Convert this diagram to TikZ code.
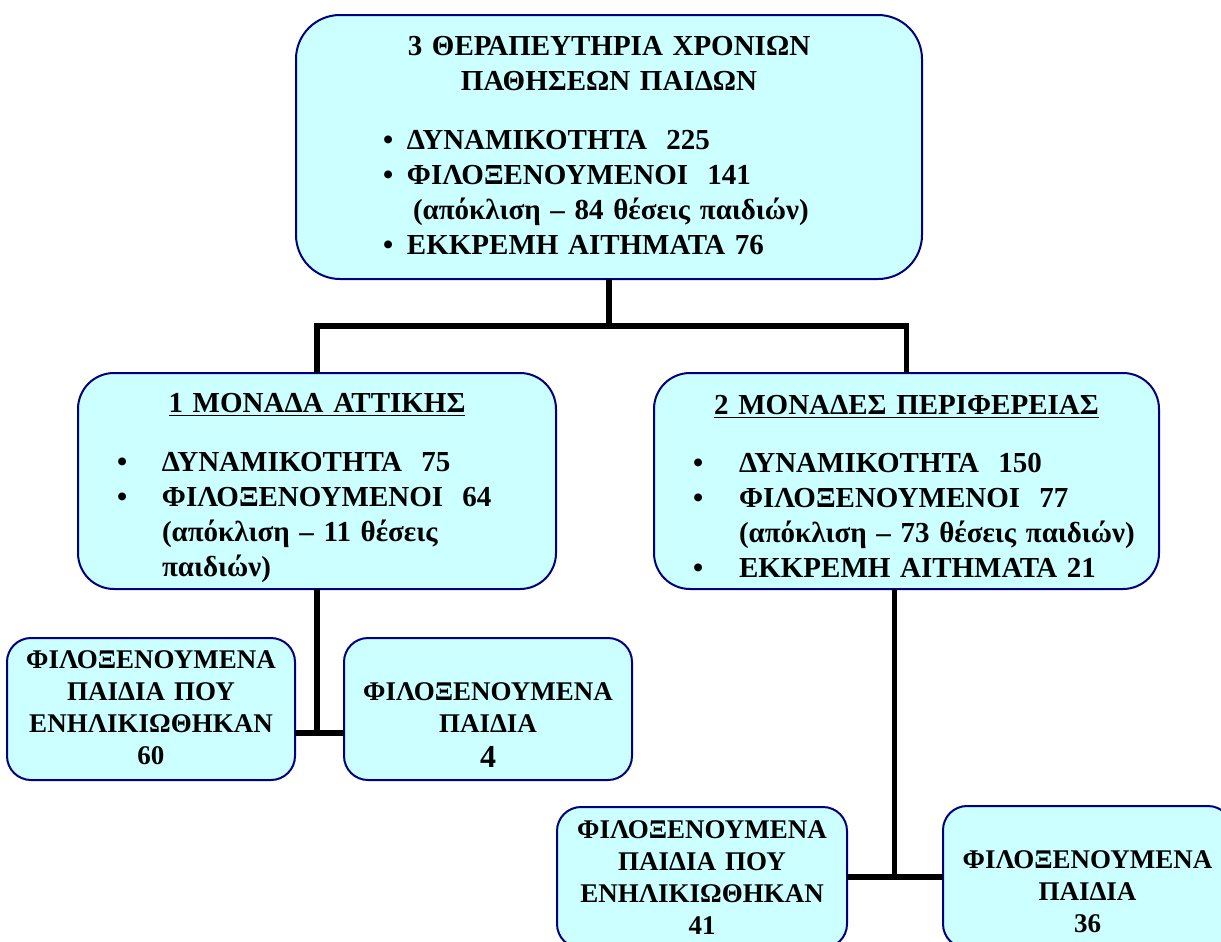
\documentclass[tikz,border=0pt]{standalone}
\usepackage{fontspec}
\setmainfont{Liberation Serif}
\definecolor{boxfill}{HTML}{CCFFFF}
\definecolor{boxline}{HTML}{000080}
\newcommand{\blt}[2]{\makebox[#1][l]{•}\mbox{#2}}

\begin{document}
\begin{tikzpicture}[x=0.5pt,y=-0.5pt,
    box/.style={draw=boxline,line width=1pt,fill=boxfill,anchor=north west,
      inner ysep=0pt,outer sep=0pt},
    bigbox/.style={box,align=left,rounded corners=18pt,
      font=\bfseries\fontsize{14.5}{17.5}\selectfont},
    smallbox/.style={box,align=center,inner xsep=5pt,rounded corners=12pt,
      font=\bfseries\fontsize{13.5}{16}\selectfont},
    conn/.style={line width=2.75pt}]
    \clip (0,0) rectangle (1221,942);
    % top box
    \node[bigbox,rounded corners=22pt,inner xsep=43.5pt,text width=226pt,
      text height=20pt,text depth=112pt] (tbox) at (296,15)
      {\makebox[226pt]{3 ΘΕΡΑΠΕΥΤΗΡΙΑ ΧΡΟΝΙΩΝ}\\
       \makebox[226pt]{ΠΑΘΗΣΕΩΝ ΠΑΙΔΩΝ}\\[12pt]
       \blt{12pt}{ΔΥΝΑΜΙΚΟΤΗΤΑ\ \ 225}\\
       \blt{12pt}{ΦΙΛΟΞΕΝΟΥΜΕΝΟΙ\ \ 141}\\
       \hspace*{15pt}\mbox{(απόκλιση – 84 θέσεις παιδιών)}\\
       \blt{12pt}{ΕΚΚΡΕΜΗ ΑΙΤΗΜΑΤΑ 76}};
    % the two units
    \node[bigbox,inner xsep=19.5pt,text width=200pt,
      text height=19.5pt,text depth=88.5pt] (lbox) at (78,373)
      {\makebox[200pt]{\underline{1 ΜΟΝΑΔΑ ΑΤΤΙΚΗΣ}}\\[12pt]
       \blt{22.5pt}{ΔΥΝΑΜΙΚΟΤΗΤΑ\ \ 75}\\
       \blt{22.5pt}{ΦΙΛΟΞΕΝΟΥΜΕΝΟΙ\ \ 64}\\
       \hspace*{22.5pt}\mbox{(απόκλιση – 11 θέσεις}\\
       \hspace*{22.5pt}παιδιών)};
    \node[bigbox,inner xsep=19.5pt,text width=213.5pt,
      text height=20.5pt,text depth=87.5pt] (rbox) at (654,373)
      {\makebox[213.5pt]{\underline{2 ΜΟΝΑΔΕΣ ΠΕΡΙΦΕΡΕΙΑΣ}}\\[11.5pt]
       \blt{23pt}{ΔΥΝΑΜΙΚΟΤΗΤΑ\ \ 150}\\
       \blt{23pt}{ΦΙΛΟΞΕΝΟΥΜΕΝΟΙ\ \ 77}\\
       \hspace*{23pt}\mbox{(απόκλιση – 73 θέσεις παιδιών)}\\
       \blt{23pt}{ΕΚΚΡΕΜΗ ΑΙΤΗΜΑΤΑ 21}};
    % children
    \node[smallbox,text width=134pt,text height=15pt,text depth=56pt] (lc1) at (7,638)
      {ΦΙΛΟΞΕΝΟΥΜΕΝΑ\\ ΠΑΙΔΙΑ ΠΟΥ\\ ΕΝΗΛΙΚΙΩΘΗΚΑΝ\\ 60};
    \node[smallbox,text width=134pt,text height=31pt,text depth=40pt] (lc2) at (344,638)
      {ΦΙΛΟΞΕΝΟΥΜΕΝΑ\\ ΠΑΙΔΙΑ\\[1.5pt] {\fontsize{16}{16}\selectfont 4}};
    \node[smallbox,text width=135pt,text height=15.5pt,text depth=55pt] (bc1) at (557,807)
      {ΦΙΛΟΞΕΝΟΥΜΕΝΑ\\ ΠΑΙΔΙΑ ΠΟΥ\\ ΕΝΗΛΙΚΙΩΘΗΚΑΝ\\ 41};
    \node[smallbox,text width=134.5pt,text height=31pt,text depth=40pt] (bc2) at (943,806)
      {ΦΙΛΟΞΕΝΟΥΜΕΝΑ\\ ΠΑΙΔΙΑ\\ 36};
    % connectors
    \draw[conn] (lbox.north) -- ++(0,-47) coordinate (tj) -| (rbox.north);
    \draw[conn] (tbox.south) -- (tbox.south |- tj);
    \draw[conn] (lbox.south) -- ++(0,144) coordinate (lj);
    \draw[conn] (lc1.east |- lj) -- (lc2.west |- lj);
    \draw[conn] ([xshift=-6pt]rbox.south) -- ++(0,288) coordinate (rj);
    \draw[conn] (bc1.east |- rj) -- (bc2.west |- rj);
\end{tikzpicture}
\end{document}
